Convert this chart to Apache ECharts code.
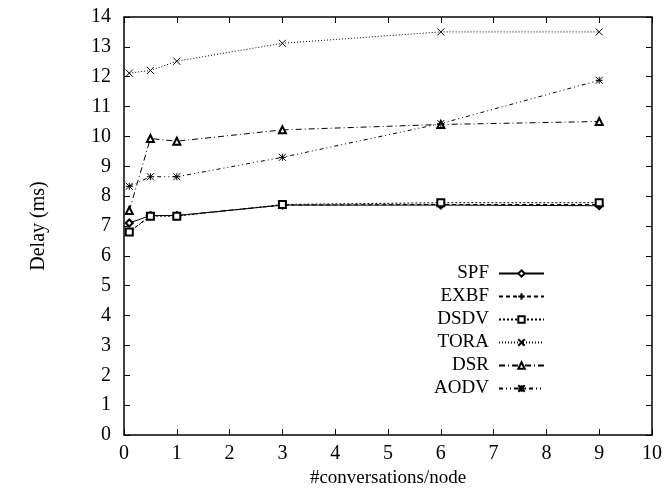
<!DOCTYPE html>
<html><head><meta charset="utf-8">
<script src="https://cdn.jsdelivr.net/npm/echarts@6/dist/echarts.min.js"></script>
<style>html,body{margin:0;padding:0;background:#fff}#c{width:664px;height:489px}</style>
</head><body><div id="c"></div>
<script>
const xs = [0.1, 0.5, 1, 3, 6, 9];
const SPF  = [7.1, 7.35, 7.35, 7.7, 7.7, 7.68];
const EXBF = [6.8, 7.35, 7.35, 7.7, 7.72, 7.72];
const DSDV = [6.8, 7.33, 7.33, 7.72, 7.78, 7.78];
const TORA = [12.12, 12.21, 12.52, 13.12, 13.5, 13.5];
const DSR  = [7.52, 9.93, 9.84, 10.22, 10.4, 10.5];
const AODV = [8.33, 8.65, 8.65, 9.3, 10.43, 11.88];
const names = ['SPF','EXBF','DSDV','TORA','DSR','AODV'];
const vals = [SPF, EXBF, DSDV, TORA, DSR, AODV];

const plusP = 'path://M0,5L10,5M5,0L5,10';
const xP = 'path://M0,0L10,10M10,0L0,10';
const astP = 'path://M0,0L10,10M10,0L0,10M0,5L10,5M5,0L5,10';
const styles = [
  {sym:'emptyDiamond', size:7, type:'solid'},
  {sym:plusP, size:7, type:[4,3]},
  {sym:'emptyRect', size:7, type:[2,2]},
  {sym:xP, size:7, type:[1,2]},
  {sym:'emptyTriangle', size:7, type:[6,3,1,3]},
  {sym:astP, size:7, type:[4,3,1,3,1,3]}
];
const font = 'Liberation Serif';
const chart = echarts.init(document.getElementById('c'));
const series = names.map((n,i)=>{
  const isPath = styles[i].sym.startsWith('path://');
  return {
    name:n, type:'line', data: xs.map((x,j)=>[x, vals[i][j]]),
    symbol: styles[i].sym, symbolSize: styles[i].size,
    lineStyle:{color:'#000', width:1, type: styles[i].type},
    itemStyle: isPath ? {color:'none', borderColor:'#000', borderWidth:1}
                      : {color:'#000', borderColor:'#000', borderWidth:1},
    emphasis:{disabled:true}, animation:false
  };
});

const axTick = {inside:true, length:6, lineStyle:{color:'#000', width:1}};
const axLine = {show:true, onZero:false, lineStyle:{color:'#000', width:1.5}};
chart.setOption({
  animation:false,
  textStyle:{fontFamily:font},
  grid:{left:124, right:12, top:17, bottom:54, containLabel:false, outerBoundsMode:'none'},
  legend:{
    orient:'vertical', right:114, top:259, align:'right',
    itemWidth:45, itemHeight:8, itemGap:4,
    textStyle:{fontFamily:font, fontSize:19, color:'#000', lineHeight:19, padding:[0,5,0,0]},
    data: names
  },
  xAxis:[{
    type:'value', min:0, max:10, interval:1,
    name:'#conversations/node', nameLocation:'middle', nameGap:33,
    nameTextStyle:{fontFamily:font, fontSize:19, color:'#000'},
    axisLine:axLine,
    axisTick:axTick,
    axisLabel:{fontFamily:font, fontSize:20, color:'#000', margin:9},
    splitLine:{show:false}
  },{
    type:'value', min:0, max:10, interval:1, position:'top',
    axisLine:axLine, axisTick:axTick,
    axisLabel:{show:false}, splitLine:{show:false}
  }],
  yAxis:[{
    type:'value', min:0, max:14, interval:1,
    name:'Delay (ms)', nameLocation:'middle', nameGap:75, nameRotate:90,
    nameTextStyle:{fontFamily:font, fontSize:20, color:'#000'},
    axisLine:axLine,
    axisTick:axTick,
    axisLabel:{fontFamily:font, fontSize:20, color:'#000', margin:13},
    splitLine:{show:false}
  },{
    type:'value', min:0, max:14, interval:1, position:'right',
    axisLine:axLine, axisTick:axTick,
    axisLabel:{show:false}, splitLine:{show:false}
  }],
  series: series
});
</script></body></html>
